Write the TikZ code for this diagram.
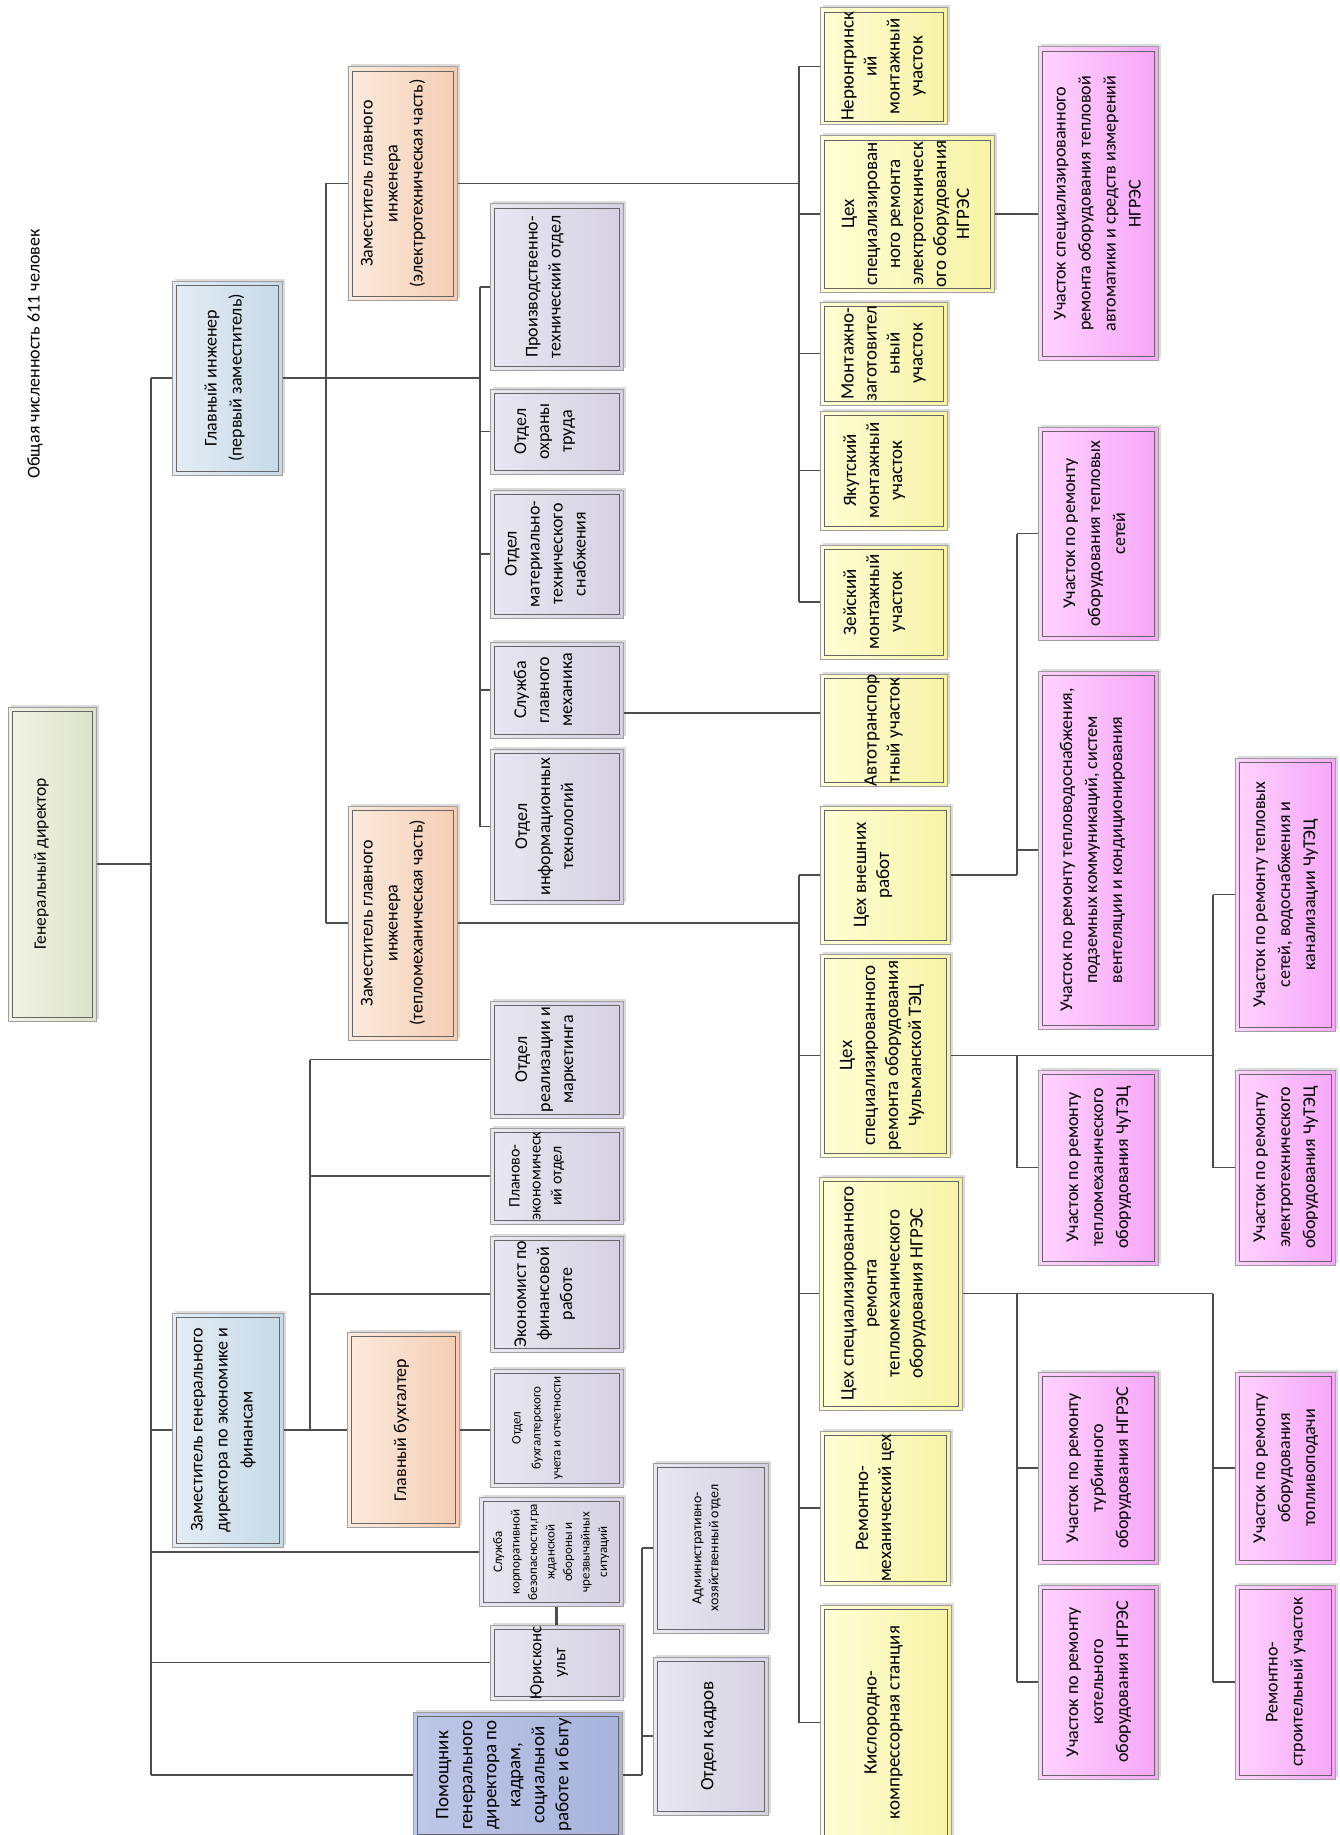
\documentclass[tikz,border=0pt]{standalone}
\usepackage{fontspec}
\setmainfont{Carlito}
\usepackage{graphicx}
\usetikzlibrary{shadows}
\definecolor{linec}{HTML}{4D4D4D}
% rotated text, optional shift to the left
\newcommand{\vt}[2][0pt]{\kern-#1\rotatebox{90}{\begin{tabular}{@{}c@{}}#2\end{tabular}}\kern#1}
\tikzset{
  boxbase/.style={draw=black!38, line width=1pt, inner sep=0pt,
    general shadow={fill=black!14, shadow xshift=2.5pt, shadow yshift=2.5pt},
    path picture={\draw[black!60, line width=0.8pt]
      ([shift={(4pt,4pt)}]path picture bounding box.south west) rectangle
      ([shift={(-4pt,-4pt)}]path picture bounding box.north east);},
    font=\fontsize{18}{25}\selectfont},
  gdbox/.style={boxbase, left color=gdL, right color=gdR, font=\fontsize{17.5}{25}\selectfont},
  bluebox/.style={boxbase, left color=blL, right color=blR},
  peachbox/.style={boxbase, left color=peL, right color=peR},
  lavbox/.style={boxbase, left color=lvL, right color=lvR, font=\fontsize{18}{23}\selectfont},
  yelbox/.style={boxbase, left color=yeL, right color=yeR, font=\fontsize{19}{23}\selectfont},
  pinkbox/.style={boxbase, left color=piL, right color=piR},
  pombox/.style={boxbase, left color=poL, right color=poR, font=\fontsize{19}{24}\selectfont},
  bus/.style={linec, line width=2.6pt},
  stub/.style={linec, line width=1.8pt}
}
\definecolor{gdL}{HTML}{F1F3E6}\definecolor{gdR}{HTML}{DCE2C9}
\definecolor{blL}{HTML}{E4EDF5}\definecolor{blR}{HTML}{C7D9E7}
\definecolor{peL}{HTML}{FCEBDF}\definecolor{peR}{HTML}{F4CDB3}
\definecolor{lvL}{HTML}{E9E7F1}\definecolor{lvR}{HTML}{D5D1E2}
\definecolor{yeL}{HTML}{FFFFD6}\definecolor{yeR}{HTML}{F7F3A6}
\definecolor{piL}{HTML}{FFD3FF}\definecolor{piR}{HTML}{F6A6F6}
\definecolor{poL}{HTML}{BFC7E6}\definecolor{poR}{HTML}{A7B3DC}
\begin{document}
\begin{tikzpicture}[x=1pt,y=-1pt]
\useasboundingbox (0,0) rectangle (1339,1835);
\node[rotate=90, font=\fontsize{18}{24}\selectfont] (title) at (35,354) {Общая численность 611 человек};
% first level
\node[gdbox, minimum width=88, minimum height=314] (gd) at (52,864) {\vt[11pt]{Генеральный директор}};
\node[bluebox, minimum width=110, minimum height=194] (gi) at (227,378) {\vt[3pt]{Главный инженер\\(первый заместитель)}};
\node[bluebox, minimum width=111, minimum height=234] (ze) at (227.5,1430) {\vt[5pt]{Заместитель генерального\\директора по экономике и\\финансам}};
\node[peachbox, minimum width=109, minimum height=233] (zel) at (402.5,183.5) {\vt[10pt]{Заместитель главного\\инженера\\(электротехническая часть)}};
\node[peachbox, minimum width=109, minimum height=234] (ztm) at (402.5,923) {\vt[10pt]{Заместитель главного\\инженера\\(тепломеханическая часть)}};
\node[peachbox, minimum width=112, minimum height=195] (gb) at (403,1430) {\vt[2pt]{Главный бухгалтер}};
\node[pombox, minimum width=209, minimum height=126] (pom) at (517.5,1775) {\vt[14pt]{Помощник\\генерального\\директора по\\кадрам,\\социальной\\работе и быту}};
% departments
\node[lavbox, minimum width=133, minimum height=166] (pto) at (556.5,287) {\vt[12pt]{Производственно-\\технический отдел}};
\node[lavbox, minimum width=133, minimum height=85] (ot) at (556.5,431.5) {\vt[12pt]{Отдел\\охраны\\труда}};
\node[lavbox, minimum width=133, minimum height=128] (omts) at (556.5,554) {\vt[10pt]{Отдел\\материально-\\технического\\снабжения}};
\node[lavbox, minimum width=133, minimum height=96] (sgm) at (556.5,690) {\vt[12pt]{Служба\\главного\\механика}};
\node[lavbox, minimum width=133, minimum height=155] (oit) at (556.5,826.5) {\vt[11pt]{Отдел\\информационных\\технологий}};
\node[lavbox, minimum width=133, minimum height=117] (orm) at (556.5,1059.5) {\vt[11pt]{Отдел\\реализации и\\маркетинга}};
\node[lavbox, minimum width=133, minimum height=96, font=\fontsize{16}{21}\selectfont] (peo) at (556.5,1176) {\vt[20pt]{Планово-\\экономическ\\ий отдел}};
\node[lavbox, minimum width=133, minimum height=116] (ek) at (556.5,1294) {\vt[12pt]{Экономист по\\финансовой\\работе}};
\node[lavbox, minimum width=133, minimum height=118, font=\fontsize{13}{20}\selectfont] (obu) at (556.5,1428) {\vt[20pt]{Отдел\\бухгалтерского\\учета и отчетности}};
\node[lavbox, minimum width=144, minimum height=109, font=\fontsize{13}{17.5}\selectfont] (sl) at (551,1552) {\vt{Служба\\корпоративной\\безопасности,гра\\жданской\\обороны и\\чрезвычайных\\ситуаций}};
\node[lavbox, minimum width=133, minimum height=75, font=\fontsize{17}{24}\selectfont] (yur) at (556.5,1662.5) {\vt[8pt]{Юрисконс\\ульт}};
\node[lavbox, minimum width=115, minimum height=170, font=\fontsize{14}{17}\selectfont] (aho) at (710.5,1548) {\vt[4pt]{Административно-\\хозяйственный отдел}};
\node[lavbox, minimum width=115, minimum height=158, font=\fontsize{19}{24}\selectfont] (ok) at (710.5,1736) {\vt[2pt]{Отдел кадров}};
% shops
\node[yelbox, minimum width=127, minimum height=117] (ner) at (883.5,66.5) {\vt{Нерюнгринск\\ий\\монтажный\\участок}};
\node[yelbox, minimum width=174, minimum height=156] (cel) at (907,214) {\vt{Цех\\специализирован\\ного ремонта\\электротехническ\\ого оборудования\\НГРЭС}};
\node[yelbox, minimum width=127, minimum height=103] (mz) at (883.5,353.5) {\vt{Монтажно-\\заготовител\\ьный\\участок}};
\node[yelbox, minimum width=127, minimum height=119] (yak) at (883.5,470.5) {\vt[9pt]{Якутский\\монтажный\\участок}};
\node[yelbox, minimum width=127, minimum height=114] (zei) at (883.5,602) {\vt[9pt]{Зейский\\монтажный\\участок}};
\node[yelbox, minimum width=127, minimum height=111] (avt) at (883.5,730.5) {\vt{Автотранспор\\тный участок}};
\node[yelbox, minimum width=130, minimum height=138] (cvr) at (885,875) {\vt[12pt]{Цех внешних\\работ}};
\node[yelbox, minimum width=130, minimum height=203] (chul) at (885,1055.5) {\vt[3pt]{Цех\\специализированного\\ремонта оборудования\\Чульманской ТЭЦ}};
\node[yelbox, minimum width=143, minimum height=233] (ngr) at (890.5,1293.5) {\vt[7pt]{Цех специализированного\\ремонта\\тепломеханического\\оборудования НГРЭС}};
\node[yelbox, minimum width=130, minimum height=154] (rmc) at (885,1508) {\vt[10pt]{Ремонтно-\\механический цех}};
\node[yelbox, minimum width=131, minimum height=235] (kis) at (885.5,1722.5) {\vt[2pt]{Кислородно-\\компрессорная станция}};
% sections
\node[pinkbox, minimum width=120, minimum height=313] (uta) at (1098,203.5) {\vt{Участок специализированного\\ремонта оборудования тепловой\\автоматики и средств измерений\\НГРЭС}};
\node[pinkbox, minimum width=120, minimum height=213] (uts) at (1098,533.5) {\vt[3pt]{Участок по ремонту\\оборудования тепловых\\сетей}};
\node[pinkbox, minimum width=120, minimum height=358] (utv) at (1098,850) {\vt[6pt]{Участок по ремонту тепловодоснабжения,\\подземных коммуникаций, систем\\вентеляции и кондиционирования}};
\node[pinkbox, minimum width=120, minimum height=195] (utm) at (1098,1167.5) {\vt{Участок по ремонту\\тепломеханического\\оборудования ЧуТЭЦ}};
\node[pinkbox, minimum width=120, minimum height=192] (utur) at (1098,1468) {\vt{Участок по ремонту\\турбинного\\оборудования НГРЭС}};
\node[pinkbox, minimum width=120, minimum height=194] (ukot) at (1098,1682) {\vt{Участок по ремонту\\котельного\\оборудования НГРЭС}};
\node[pinkbox, minimum width=100, minimum height=273] (usv) at (1285,894.5) {\vt{Участок по ремонту тепловых\\сетей, водоснабжения и\\канализации ЧуТЭЦ}};
\node[pinkbox, minimum width=100, minimum height=195] (uet) at (1285,1167.5) {\vt{Участок по ремонту\\электротехнического\\оборудования ЧуТЭЦ}};
\node[pinkbox, minimum width=100, minimum height=192] (utop) at (1285,1468) {\vt{Участок по ремонту\\оборудования\\топливоподачи}};
\node[pinkbox, minimum width=100, minimum height=194] (urs) at (1285,1682) {\vt{Ремонтно-\\строительный участок}};
% bus lines
\coordinate (trk) at (151,0);
\coordinate (v2) at (326,0);
\coordinate (v3) at (480,0);
\coordinate (v4) at (310,0);
\coordinate (v5) at (642,0);
\coordinate (v6) at (799,0);
\coordinate (v8) at (1017,0);
\coordinate (v9) at (1213,0);
\draw[bus] (trk |- gi.west) -- (trk |- pom.west);
\foreach \nd in {gi,ze,sl,yur,pom} \draw[stub] (trk |- \nd.west) -- (\nd.west);
\draw[stub] (gd.east) -- (trk |- gd.east);
\draw[stub] (gi.east) -- (v3 |- gi.east);
\draw[bus] (v3 |- pto.west) -- (v3 |- oit.west);
\foreach \nd in {pto,ot,omts,sgm,oit} \draw[stub] (v3 |- \nd.west) -- (\nd.west);
\draw[bus] (v2 |- zel.west) -- (v2 |- ztm.west);
\foreach \nd in {zel,ztm} \draw[stub] (v2 |- \nd.west) -- (\nd.west);
\draw[stub] (ze.east) -- (ze.east -| gb.west);
\draw[bus] (v4 |- orm.west) -- (v4 |- ze.east);
\foreach \nd in {orm,peo,ek} \draw[stub] (v4 |- \nd.west) -- (\nd.west);
\draw[stub] (gb.east) -- (gb.east -| obu.west);
\draw[bus] (yur.north) -- (yur.north |- sl.south);
\draw[stub] (pom.east) -- (v5 |- pom.east);
\draw[bus] (v5 |- aho.west) -- (v5 |- pom.east);
\foreach \nd in {aho,ok} \draw[stub] (v5 |- \nd.west) -- (\nd.west);
\draw[stub] (zel.east) -- (v6 |- zel.east);
\draw[bus] (v6 |- ner.west) -- (v6 |- zei.west);
\foreach \nd in {ner,cel,mz,yak,zei} \draw[stub] (v6 |- \nd.west) -- (\nd.west);
\draw[stub] ([yshift=-23pt]sgm.east) -- ([yshift=-23pt]sgm.east -| avt.west);
\draw[stub] (ztm.east) -- (v6 |- ztm.east);
\draw[bus] (v6 |- cvr.west) -- (v6 |- kis.west);
\foreach \nd in {cvr,chul,ngr,rmc,kis} \draw[stub] (v6 |- \nd.west) -- (\nd.west);
\draw[stub] (cel.east) -- (cel.east -| uta.west);
\draw[stub] (cvr.east) -- (v8 |- cvr.east);
\draw[bus] (v8 |- uts.west) -- (v8 |- cvr.east);
\foreach \nd in {uts,utv} \draw[stub] (v8 |- \nd.west) -- (\nd.west);
\draw[stub] (chul.east) -- (v9 |- chul.east);
\draw[bus] (v8 |- chul.east) -- (v8 |- utm.west);
\draw[bus] (v9 |- usv.west) -- (v9 |- uet.west);
\draw[stub] (v8 |- utm.west) -- (utm.west);
\foreach \nd in {usv,uet} \draw[stub] (v9 |- \nd.west) -- (\nd.west);
\draw[stub] (ngr.east) -- (v9 |- ngr.east);
\draw[bus] (v8 |- ngr.east) -- (v8 |- ukot.west);
\draw[bus] (v9 |- ngr.east) -- (v9 |- urs.west);
\foreach \nd in {utur,ukot} \draw[stub] (v8 |- \nd.west) -- (\nd.west);
\foreach \nd in {utop,urs} \draw[stub] (v9 |- \nd.west) -- (\nd.west);
\end{tikzpicture}
\end{document}
